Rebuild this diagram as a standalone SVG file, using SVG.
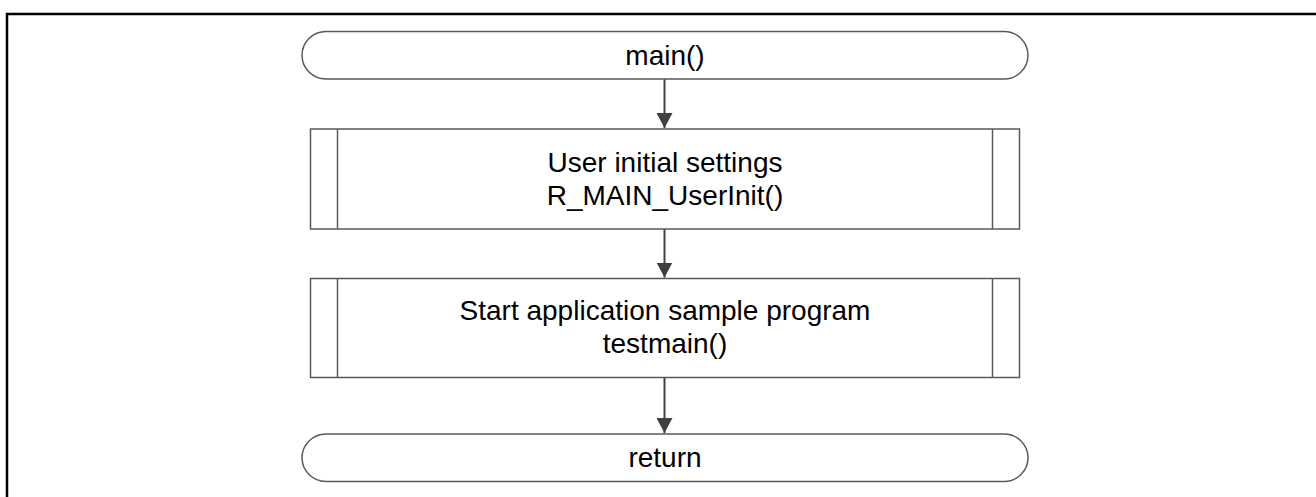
<svg xmlns="http://www.w3.org/2000/svg" width="1316" height="497" viewBox="0 0 1316 497">
<defs>
<style>
.shape{fill:#fff;stroke:#595959;stroke-width:1.5}
.lbl{font-family:"Liberation Sans",Arial,sans-serif;font-size:28px;fill:#000;text-anchor:middle}
.conn{stroke:#404040;stroke-width:2;fill:none}
</style>
<marker id="arr" markerWidth="16" markerHeight="16" refX="15" refY="8" orient="auto" markerUnits="userSpaceOnUse">
<path d="M0,0 L15,8 L0,16 Z" fill="#404040"/>
</marker>
</defs>
<rect width="1316" height="497" fill="#fff"/>
<path d="M7,497 V14 H1316" fill="none" stroke="#000" stroke-width="2.5"/>
<g id="connectors">
<line class="conn" x1="664.5" y1="79" x2="664.5" y2="128" marker-end="url(#arr)"/>
<line class="conn" x1="664.5" y1="229" x2="664.5" y2="277.5" marker-end="url(#arr)"/>
<line class="conn" x1="664.5" y1="377" x2="664.5" y2="433" marker-end="url(#arr)"/>
</g>
<g id="start">
<rect class="shape" x="302" y="31.5" width="726" height="47.5" rx="24" ry="24"/>
<text class="lbl" x="665" y="65">main()</text>
</g>
<g id="userinit">
<rect class="shape" x="310.5" y="129" width="709" height="100"/>
<line class="shape" x1="337.5" y1="129" x2="337.5" y2="229"/>
<line class="shape" x1="992.5" y1="129" x2="992.5" y2="229"/>
<text class="lbl" x="665" y="172">User initial settings</text>
<text class="lbl" x="665" y="205">R_MAIN_UserInit()</text>
</g>
<g id="testmain">
<rect class="shape" x="310.5" y="278.5" width="709" height="99"/>
<line class="shape" x1="337.5" y1="278.5" x2="337.5" y2="377.5"/>
<line class="shape" x1="992.5" y1="278.5" x2="992.5" y2="377.5"/>
<text class="lbl" x="665" y="320">Start application sample program</text>
<text class="lbl" x="665" y="353">testmain()</text>
</g>
<g id="end">
<rect class="shape" x="302" y="434" width="726" height="47.5" rx="24" ry="24"/>
<text class="lbl" x="665" y="467">return</text>
</g>
</svg>
